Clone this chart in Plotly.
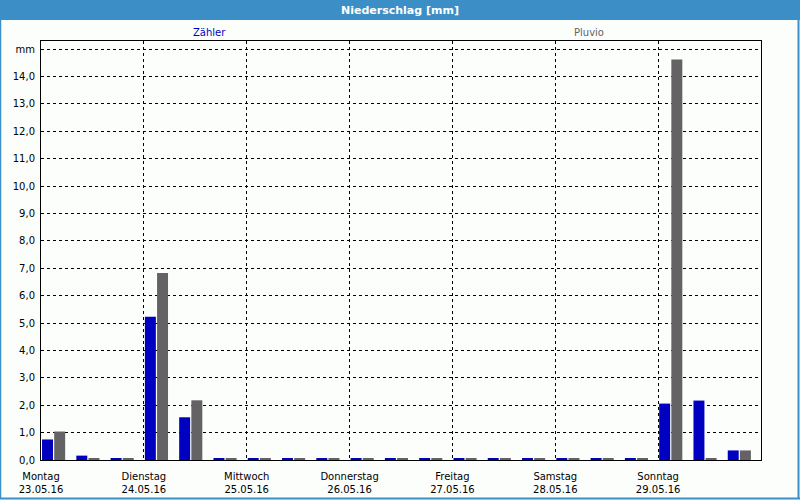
import plotly.graph_objects as go

# 21 eight-hour slots (3 per day), Montag 23.05.16 .. Sonntag 29.05.16
slots = list(range(21))
zaehler = [0.75, 0.16, 0.05, 5.23, 1.56, 0.05, 0.05, 0.05, 0.05, 0.05, 0.05,
           0.05, 0.05, 0.05, 0.05, 0.05, 0.05, 0.05, 2.06, 2.17, 0.35]
pluvio = [1.04, 0.05, 0.05, 6.83, 2.18, 0.05, 0.05, 0.05, 0.05, 0.05, 0.05,
          0.05, 0.05, 0.05, 0.05, 0.05, 0.05, 0.05, 14.62, 0.05, 0.35]
day_names = ["Montag", "Dienstag", "Mittwoch", "Donnerstag", "Freitag", "Samstag", "Sonntag"]
day_dates = ["23.05.16", "24.05.16", "25.05.16", "26.05.16", "27.05.16", "28.05.16", "29.05.16"]
y_ticks = list(range(0, 16))
y_labels = [f"{v},0" for v in range(0, 15)] + ["mm"]

W, H = 800, 500
L, R, T, B = 41, 761, 41, 460.5
pw, ph = R - L, B - T

def px(x):
    return (x - L) / pw

def py(y):
    return (B - y) / ph

FONT = "DejaVu Sans"
fig = go.Figure()
fig.add_trace(go.Bar(x=slots, y=zaehler, offset=0.03, width=0.32,
                     marker=dict(color="#0000C0", line=dict(width=0)), name="Zähler"))
fig.add_trace(go.Bar(x=slots, y=pluvio, offset=0.385, width=0.32,
                     marker=dict(color="#646264", line=dict(width=0)), name="Pluvio"))

shapes = [
    # title bar
    dict(type="rect", xref="paper", yref="paper", x0=px(0), x1=px(800), y0=py(20), y1=py(0),
         fillcolor="#3C8FC6", line=dict(width=0), layer="above"),
    # window border
    dict(type="line", xref="paper", yref="paper", x0=px(0.5), x1=px(0.5), y0=py(20), y1=py(499.5),
         line=dict(color="#3C8FC6", width=1.5)),
    dict(type="line", xref="paper", yref="paper", x0=px(798.5), x1=px(798.5), y0=py(20), y1=py(499.5),
         line=dict(color="#3C8FC6", width=2)),
    dict(type="line", xref="paper", yref="paper", x0=px(0), x1=px(800), y0=py(499), y1=py(499),
         line=dict(color="#3C8FC6", width=2)),
]

fig.update_layout(
    width=W, height=H,
    margin=dict(l=L, r=W - R, t=T, b=H - B, pad=0, autoexpand=False),
    paper_bgcolor="#FCFEFC", plot_bgcolor="#FCFEFC",
    showlegend=False, barmode="overlay",
    font=dict(family=FONT, size=10, color="black"),
    shapes=shapes,
    annotations=[
        dict(text="<b>Niederschlag [mm]</b>", xref="paper", yref="paper", x=px(400), y=py(10),
             showarrow=False, font=dict(color="white", size=11, family=FONT), xanchor="center", yanchor="middle"),
        dict(text="Zähler", xref="paper", yref="paper", x=px(209), y=py(32),
             showarrow=False, font=dict(color="#0000C0", size=10, family=FONT), xanchor="center", yanchor="middle"),
        dict(text="Pluvio", xref="paper", yref="paper", x=px(589), y=py(32),
             showarrow=False, font=dict(color="#646264", size=10, family=FONT), xanchor="center", yanchor="middle"),
    ],
    xaxis=dict(range=[0, 21], tickvals=[0, 3, 6, 9, 12, 15, 18],
               ticktext=[f"{n}<br>{d}" for n, d in zip(day_names, day_dates)],
               showgrid=True, gridcolor="black", griddash="3px,3px", gridwidth=1,
               showline=True, linecolor="black", linewidth=1, mirror=True, automargin=False,
               ticks="", ticklabelstandoff=7, zeroline=False, tickangle=0, fixedrange=True),
    yaxis=dict(range=[0, 15.3], tickvals=y_ticks, ticktext=y_labels, automargin=False,
               showgrid=True, gridcolor="black", griddash="3px,3px", gridwidth=1,
               showline=True, linecolor="black", linewidth=1, mirror=True,
               ticks="outside", ticklen=3, tickcolor="rgba(0,0,0,0)", zeroline=False),
)
fig.write_html("out.html")
